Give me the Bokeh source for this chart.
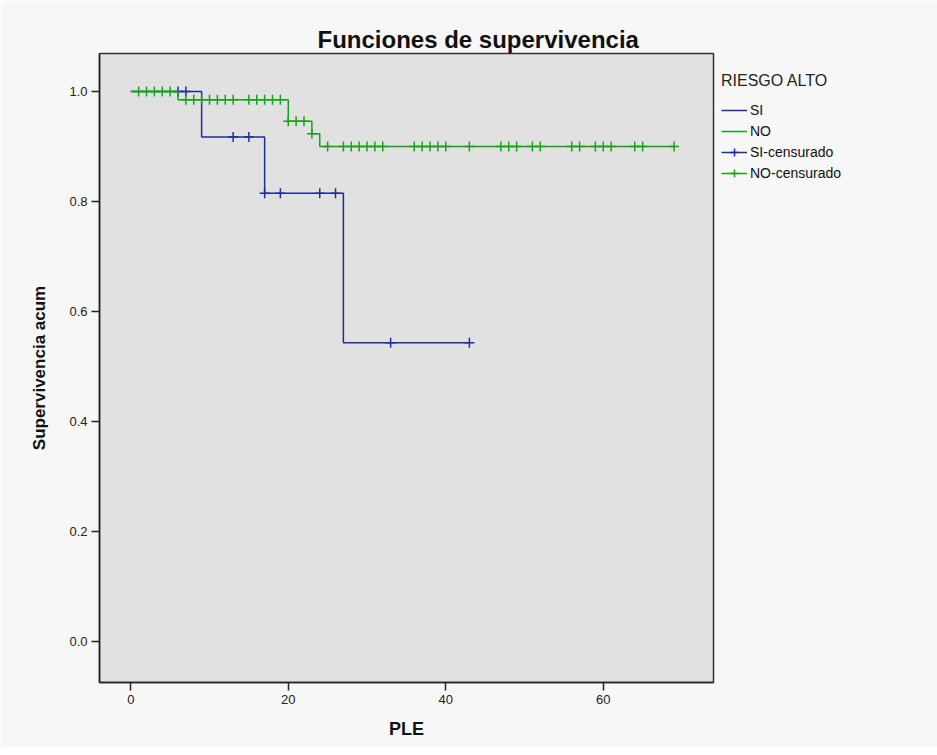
from bokeh.plotting import figure
from bokeh.models import (Range1d, FixedTicker, PrintfTickFormatter, Legend, LegendItem)
from bokeh.embed import file_html
from bokeh.resources import INLINE

# ---- data ----
si_time = [0, 9, 17, 27, 43]
si_surv = [1.0, 0.917, 0.815, 0.543, 0.543]
si_cens_time = [6, 7, 13, 15, 17, 19, 24, 26, 33, 43]
si_cens_surv = [1.0, 1.0, 0.917, 0.917, 0.815, 0.815, 0.815, 0.815, 0.543, 0.543]

no_time = [0, 6, 20, 23, 24, 69]
no_surv = [1.0, 0.985, 0.946, 0.923, 0.900, 0.900]
no_cens_time = [1, 2, 3, 4, 5,
                7, 8, 9, 10, 11, 12, 13, 15, 16, 17, 18, 19,
                20, 21, 22, 23,
                25, 27, 28, 29, 30, 31, 32, 36, 37, 38, 39, 40, 43, 47, 48, 49,
                51, 52, 56, 57, 59, 60, 61, 64, 65, 69]
no_cens_surv = ([1.0] * 5 + [0.985] * 12 + [0.946] * 3 + [0.923] +
                [0.900] * 26)

x_ticks = [0, 20, 40, 60]
y_ticks = [0.0, 0.2, 0.4, 0.6, 0.8, 1.0]

BLUE = "#1f2d9c"
GREEN = "#17a317"
FONT = "Liberation Sans"

p = figure(frame_width=614, frame_height=629,
           min_border_left=99, min_border_right=216,
           min_border_top=53, min_border_bottom=65,
           x_range=Range1d(-3.97, 74.0), y_range=Range1d(-0.0745, 1.069),
           output_backend="svg", toolbar_location=None)

p.title.text = "Funciones de supervivencia"
p.title.align = "left"
p.title.offset = 218
p.title.standoff = 2
p.title.text_font = FONT
p.title.text_font_size = "24px"
p.title.text_font_style = "bold"
p.title.text_color = "#111111"

p.background_fill_color = "#e1e1e1"
p.border_fill_color = "#f7f7f7"
p.outline_line_color = "#333333"
p.outline_line_width = 1.5
p.grid.visible = False

for ax in (p.xaxis[0], p.yaxis[0]):
    ax.axis_line_color = "#222222"
    ax.axis_line_width = 1.5
    ax.major_tick_out = 8
    ax.major_tick_in = 0
    ax.major_tick_line_color = "#222222"
    ax.major_tick_line_width = 1.5
    ax.minor_tick_line_color = None
    ax.major_label_text_font = FONT
    ax.major_label_text_font_size = "13px"
    ax.major_label_text_color = "#222222"
    ax.axis_label_text_font = FONT
    ax.axis_label_text_font_style = "bold"
    ax.axis_label_text_color = "#111111"

p.xaxis.ticker = FixedTicker(ticks=x_ticks)
p.yaxis.ticker = FixedTicker(ticks=y_ticks)
p.yaxis.formatter = PrintfTickFormatter(format="%.1f")
p.xaxis.axis_label = "PLE"
p.yaxis.axis_label = "Supervivencia acum"
p.xaxis.axis_label_text_font_size = "18px"
p.yaxis.axis_label_text_font_size = "17px"
p.xaxis.axis_label_standoff = 12
p.yaxis.axis_label_standoff = 17
p.xaxis.major_label_standoff = 4
p.yaxis.major_label_standoff = 4

si_line = p.step(si_time, si_surv, mode="after", line_color=BLUE, line_width=1.5)
si_cross = p.scatter(si_cens_time, si_cens_surv, marker="cross", size=10,
                     line_color=BLUE, line_width=1.5)
no_line = p.step(no_time, no_surv, mode="after", line_color=GREEN, line_width=1.5)
no_cross = p.scatter(no_cens_time, no_cens_surv, marker="cross", size=10,
                     line_color=GREEN, line_width=1.5)

legend = Legend(items=[
    LegendItem(label="SI", renderers=[si_line]),
    LegendItem(label="NO", renderers=[no_line]),
    LegendItem(label="SI-censurado", renderers=[si_line, si_cross]),
    LegendItem(label="NO-censurado", renderers=[no_line, no_cross]),
], location=(8, 499))
legend.title = "RIESGO ALTO"
legend.title_text_font = FONT
legend.title_text_font_size = "16px"
legend.title_text_font_style = "normal"
legend.title_text_color = "#222222"
legend.title_standoff = 10
legend.label_text_font = FONT
legend.label_text_font_size = "14px"
legend.label_text_color = "#111111"
legend.background_fill_alpha = 0
legend.border_line_color = None
legend.margin = 0
legend.padding = 6
legend.spacing = 1
legend.glyph_width = 26
legend.glyph_height = 20
legend.label_height = 20
legend.label_standoff = 3
p.add_layout(legend, "right")

open("out.html", "w").write(file_html(p, INLINE))
